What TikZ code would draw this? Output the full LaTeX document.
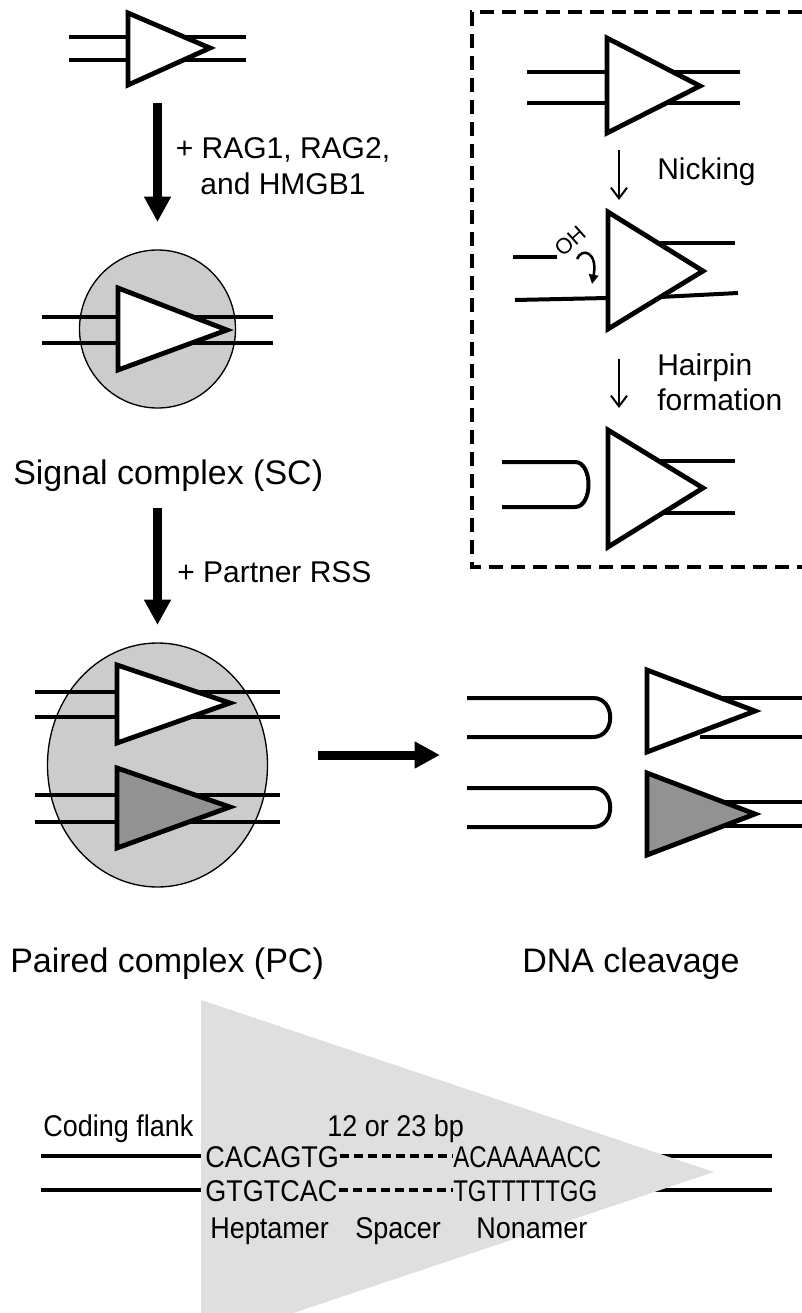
\documentclass[tikz,border=0pt]{standalone}
\usepackage{fontspec}
\setmainfont{Liberation Sans}
\newfontfamily\narrowfont[FakeStretch=0.9]{Liberation Sans}
\newfontfamily\narrowerfont[FakeStretch=0.8]{Liberation Sans}
\usetikzlibrary{arrows.meta}
\tikzset{
  dna/.style={line width=3pt},
  thindna/.style={line width=2.3pt},
  rss/.style={line width=3.6pt, fill=white, miter limit=10},
  rssdark/.style={line width=3.6pt, fill=darkgray, miter limit=10},
  blob/.style={line width=1pt, fill=blobgray},
  bigarrow/.style={line width=6.75pt, -{Triangle[length=19pt,width=19pt]}},
  thinarrow/.style={line width=1.5pt, -{Straight Barb[length=8pt,width=12pt]}},
  biglabel/.style={anchor=base west, inner sep=0pt, font=\fontsize{25.5}{30}\selectfont},
  midlabel/.style={anchor=base west, inner sep=0pt, font=\fontsize{22.5}{27}\selectfont},
  seqlabel/.style={anchor=base west, inner sep=0pt, font=\narrowfont\fontsize{22.5}{27}\selectfont},
  seqnarrow/.style={anchor=base west, inner sep=0pt, font=\narrowerfont\fontsize{22.5}{27}\selectfont},
  boxline/.style={line width=2.3pt, dash pattern=on 10.5pt off 6pt},
}
\definecolor{blobgray}{HTML}{CCCCCC}
\definecolor{darkgray}{HTML}{929292}
\definecolor{rssgray}{HTML}{DFDFDF}
\begin{document}
\begin{tikzpicture}[x=0.75pt,y=-0.75pt]
\path[use as bounding box] (0,0) rectangle (802,1313);

% ---------- top-left free RSS ----------
\draw[dna] (69,37) -- (246,37);
\draw[dna] (69,60) -- (246,60);
\draw[rss] (128,13) -- (210,48) -- (128,85) -- cycle;

% arrow 1
\coordinate (a1s) at (157.5,103);
\coordinate (a1e) at (157.5,222);
\draw[bigarrow] (a1s) -- (a1e);
\node[anchor=base, inner sep=0pt, align=center, font=\fontsize{22.5}{27}\selectfont] (rag) at (283,194) {+ RAG1, RAG2,\\and HMGB1};

% ---------- signal complex ----------
\draw[blob] (157.5,329) ellipse [x radius=78, y radius=79];
\draw[dna] (42,317) -- (273,317);
\draw[dna] (42,343) -- (273,343);
\draw[rss] (118,288) -- (227,330) -- (118,370) -- cycle;
\node[biglabel] (sc) at (13,484) {Signal complex (SC)};

% arrow 2
\coordinate (a2s) at (157.5,508);
\coordinate (a2e) at (157.5,625);
\draw[bigarrow] (a2s) -- (a2e);
\node[midlabel] (partner) at (177,582) {+ Partner RSS};

% ---------- paired complex ----------
\draw[blob] (157.5,765) ellipse [x radius=110, y radius=122];
\draw[dna] (35,692) -- (280,692);
\draw[dna] (35,717) -- (280,717);
\draw[dna] (35,795) -- (280,795);
\draw[dna] (35,822) -- (280,822);
\draw[rss] (117,665) -- (230,703) -- (117,743) -- cycle;
\draw[rssdark] (117,768) -- (230,807) -- (117,848) -- cycle;
\node[biglabel] (pc) at (10,972) {Paired complex (PC)};

% arrow 3
\coordinate (a3s) at (318,755);
\coordinate (a3e) at (440,755);
\draw[bigarrow] (a3s) -- (a3e);

% ---------- DNA cleavage ----------
\draw[dna] (467,698) -- (593,698) .. controls (616,698) and (616,737) .. (593,737) -- (467,737);
\draw[dna] (467,788) -- (593,788) .. controls (616,788) and (616,827) .. (593,827) -- (467,827);
\draw[thindna] (700,698) -- (802,698);
\draw[thindna] (700,737) -- (802,737);
\draw[thindna] (700,802) -- (802,802);
\draw[thindna] (700,826) -- (802,826);
\draw[rss] (647,670) -- (755,711) -- (647,752) -- cycle;
\draw[rssdark] (647,773) -- (755,814) -- (647,855) -- cycle;
\node[biglabel] (clv) at (522,972) {DNA cleavage};

% ---------- dashed box ----------
\draw[boxline] (802,12) -- (472,12) -- (472,567) -- (802,567);

% top RSS in box
\draw[dna] (527,72) -- (740,72);
\draw[dna] (527,103) -- (740,103);
\draw[rss] (607,38) -- (700,86) -- (607,133) -- cycle;

\coordinate (n1s) at (619,150);
\coordinate (n1e) at (619,200);
\draw[thinarrow] (n1s) -- (n1e);
\node[midlabel] (nick) at (657,179) {Nicking};

% nicked RSS
\draw[dna] (513,257) -- (557,257);
\draw[dna] (515,300) -- (608,298);
\draw[dna] (660,243) -- (735,243);
\draw[dna] (660,297) -- (738,293);
\draw[rss] (608,212) -- (703,271) -- (608,329) -- cycle;
\node[rotate=42, inner sep=0pt, font=\fontsize{16.5}{18}\selectfont] (oh) at (570,241) {OH};
\coordinate (ohs) at (577,259);
\coordinate (ohe) at (592,284);
\draw[line width=1.9pt, -{Triangle[length=7pt,width=7pt]}] (ohs) .. controls (582,247) and (598,252) .. (ohe);

\coordinate (n2s) at (619,359);
\coordinate (n2e) at (619,408);
\draw[thinarrow] (n2s) -- (n2e);
\node[midlabel] (hair) at (657,375) {Hairpin};
\node[midlabel] (form) at (657,410) {formation};

% hairpin
\draw[dna] (502,462) -- (575,462) .. controls (593,462) and (593,507) .. (575,507) -- (502,507);
\draw[dna] (660,461) -- (735,461);
\draw[dna] (660,513) -- (735,513);
\draw[rss] (608,430) -- (703,488) -- (608,547) -- cycle;

% ---------- RSS detail ----------
\draw[dna] (41,1156) -- (772,1156);
\draw[dna] (41,1190) -- (772,1190);
\begin{scope}
\clip (0,0) rectangle (802,1313);
\fill[rssgray] (201,1000) -- (714,1172) -- (201,1344) -- cycle;
\end{scope}
\node[seqlabel] (flank) at (43,1136) {Coding flank};
\node[seqlabel] (bp) at (327,1136) {12 or 23 bp};
\node[seqlabel] (h1) at (205,1167) {CACAGTG};
\node[seqlabel] (h2) at (205,1201) {GTGTCAC};
\node[seqnarrow] (n1) at (453,1167) {ACAAAAACC};
\node[seqnarrow] (n2) at (453,1201) {TGTTTTTGG};
\draw[line width=3pt, dash pattern=on 7pt off 3.5pt] (h1.base east |- 0,1156) ++(1,0) -- (n1.base west |- 0,1156);
\draw[line width=3pt, dash pattern=on 7pt off 3.5pt] (h2.base east |- 0,1190) ++(1,0) -- (n2.base west |- 0,1190);
\node[seqlabel] (hept) at (210,1238) {Heptamer};
\node[seqlabel] (spac) at (355,1238) {Spacer};
\node[seqlabel] (nona) at (476,1238) {Nonamer};
\end{tikzpicture}
\end{document}
